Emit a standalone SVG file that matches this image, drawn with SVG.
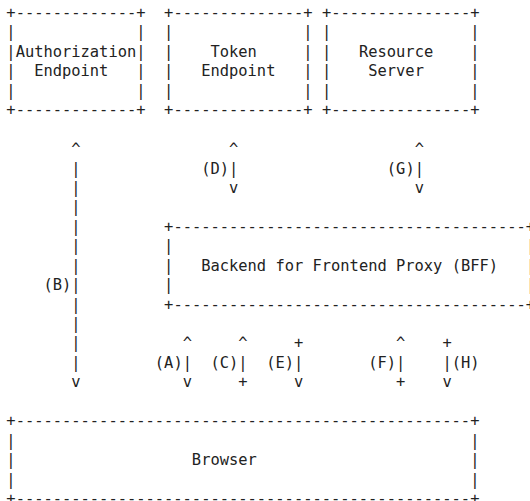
<svg xmlns="http://www.w3.org/2000/svg" width="530" height="501" viewBox="0 0 530 501" xml:space="preserve">
  <style>
    text { font-family: "DejaVu Sans Mono", "Liberation Mono", monospace; font-size: 15.41px; fill: #222; white-space: pre; }
  </style>
  <rect width="530" height="501" fill="#fff"/>

  <!-- Authorization Endpoint box (cols 0-14) -->
  <g id="authorization-endpoint">
    <text x="6.36" y="18">+-------------+</text>
    <text x="6.36" y="37.44">|             |</text>
    <text x="6.36" y="56.88">|Authorization|</text>
    <text x="6.36" y="76.32">|  Endpoint   |</text>
    <text x="6.36" y="95.76">|             |</text>
    <text x="6.36" y="115.2">+-------------+</text>
  </g>

  <!-- Token Endpoint box (cols 17-32) -->
  <g id="token-endpoint">
    <text x="164.12" y="18">+--------------+</text>
    <text x="164.12" y="37.44">|              |</text>
    <text x="164.12" y="56.88">|    Token     |</text>
    <text x="164.12" y="76.32">|   Endpoint   |</text>
    <text x="164.12" y="95.76">|              |</text>
    <text x="164.12" y="115.2">+--------------+</text>
  </g>

  <!-- Resource Server box (cols 34-50) -->
  <g id="resource-server">
    <text x="321.88" y="18">+---------------+</text>
    <text x="321.88" y="37.44">|               |</text>
    <text x="321.88" y="56.88">|   Resource    |</text>
    <text x="321.88" y="76.32">|    Server     |</text>
    <text x="321.88" y="95.76">|               |</text>
    <text x="321.88" y="115.2">+---------------+</text>
  </g>

  <!-- Backend for Frontend Proxy box (cols 17-56, its right side sits on the edge) -->
  <g id="bff">
    <text x="164.12" y="231.84">+--------------------------------------+</text>
    <text x="164.12" y="251.28">|</text>
    <text x="164.12" y="270.72">|   Backend for Frontend Proxy (BFF)</text>
    <text x="164.12" y="290.16">|</text>
    <text x="164.12" y="309.6">+--------------------------------------+</text>
    <text x="526.04" y="251.28">|</text>
    <text x="526.04" y="270.72">|</text>
    <text x="526.04" y="290.16">|</text>
  </g>

  <!-- Browser box (cols 0-50) -->
  <g id="browser">
    <text x="6.36" y="426.24">+-------------------------------------------------+</text>
    <text x="6.36" y="445.68">|                                                 |</text>
    <text x="6.36" y="465.12">|                   Browser                       |</text>
    <text x="6.36" y="484.56">|                                                 |</text>
    <text x="6.36" y="504">+-------------------------------------------------+</text>
  </g>

  <!-- Flows between the parties -->
  <g id="connectors">
    <!-- (B) browser <-> authorization endpoint, col 7 -->
    <text x="71.32" y="154.08">^</text>
    <text x="71.32" y="173.52">|</text>
    <text x="71.32" y="192.96">|</text>
    <text x="71.32" y="212.4">|</text>
    <text x="71.32" y="231.84">|</text>
    <text x="71.32" y="251.28">|</text>
    <text x="71.32" y="270.72">|</text>
    <text x="43.48" y="290.16">(B)|</text>
    <text x="71.32" y="309.6">|</text>
    <text x="71.32" y="329.04">|</text>
    <text x="71.32" y="348.48">|</text>
    <text x="71.32" y="367.92">|</text>
    <text x="71.32" y="387.36">v</text>

    <!-- (D) BFF <-> token endpoint, col 24 -->
    <text x="229.08" y="154.08">^</text>
    <text x="201.24" y="173.52">(D)|</text>
    <text x="229.08" y="192.96">v</text>

    <!-- (G) BFF <-> resource server, col 44 -->
    <text x="414.68" y="154.08">^</text>
    <text x="386.84" y="173.52">(G)|</text>
    <text x="414.68" y="192.96">v</text>

    <!-- (A) col 19 -->
    <text x="182.68" y="348.48">^</text>
    <text x="154.84" y="367.92">(A)|</text>
    <text x="182.68" y="387.36">v</text>

    <!-- (C) col 25 -->
    <text x="238.36" y="348.48">^</text>
    <text x="210.52" y="367.92">(C)|</text>
    <text x="238.36" y="387.36">+</text>

    <!-- (E) col 31 -->
    <text x="294.04" y="348.48">+</text>
    <text x="266.2" y="367.92">(E)|</text>
    <text x="294.04" y="387.36">v</text>

    <!-- (F) col 42 -->
    <text x="396.12" y="348.48">^</text>
    <text x="368.28" y="367.92">(F)|</text>
    <text x="396.12" y="387.36">+</text>

    <!-- (H) col 47 -->
    <text x="442.52" y="348.48">+</text>
    <text x="442.52" y="367.92">|(H)</text>
    <text x="442.52" y="387.36">v</text>
  </g>
</svg>
